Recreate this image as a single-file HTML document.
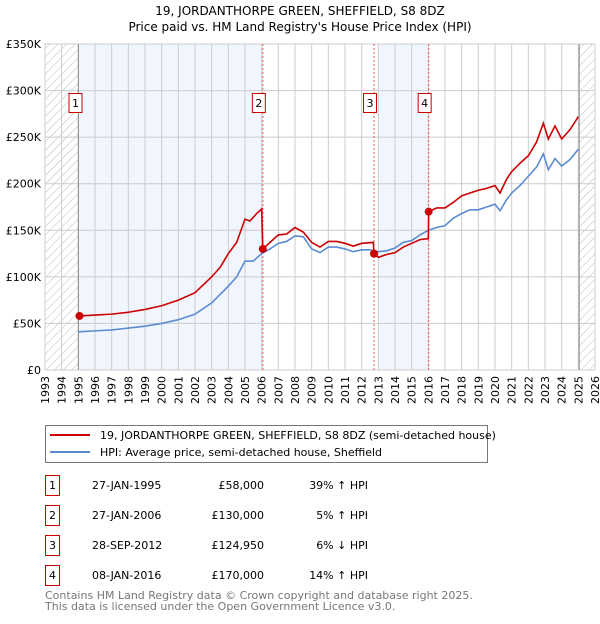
<!DOCTYPE html>
<html><head><meta charset="utf-8"><style>
body{margin:0;background:#fff;font-family:"DejaVu Sans","Liberation Sans",sans-serif;}
svg text{font-family:"DejaVu Sans","Liberation Sans",sans-serif;}
</style></head><body>
<svg id="c" width="600" height="620" viewBox="0 0 600 620" xmlns="http://www.w3.org/2000/svg">
<defs><pattern id="hatch" width="6" height="6" patternUnits="userSpaceOnUse" patternTransform="rotate(45)"><line x1="0" y1="0" x2="0" y2="6" stroke="#bbb" stroke-width="1"/></pattern></defs>
<text x="300" y="15" text-anchor="middle" font-size="12" fill="#000">19, JORDANTHORPE GREEN, SHEFFIELD, S8 8DZ</text>
<text x="300" y="31" text-anchor="middle" font-size="12" fill="#000">Price paid vs. HM Land Registry's House Price Index (HPI)</text>
<g id="plot"></g>
<g>
<rect x="45.5" y="425.5" width="442" height="37" fill="#fff" stroke="#777"/>
<line x1="50" y1="435" x2="90" y2="435" stroke="#cc0000" stroke-width="2"/>
<text x="100" y="439" font-size="11">19, JORDANTHORPE GREEN, SHEFFIELD, S8 8DZ (semi-detached house)</text>
<line x1="50" y1="452" x2="90" y2="452" stroke="#5b8bd0" stroke-width="2"/>
<text x="100" y="456" font-size="11">HPI: Average price, semi-detached house, Sheffield</text>
</g>
<g id="table" font-size="11"></g>
<text x="45" y="599" font-size="11" fill="#777">Contains HM Land Registry data © Crown copyright and database right 2025.</text>
<text x="45" y="610" font-size="11" fill="#777">This data is licensed under the Open Government Licence v3.0.</text>
</svg>
<script>
const hpiYears=[1995,1996,1997,1998,1999,2000,2001,2002,2003,2004,2004.5,2005,2005.5,2006,2006.5,2007,2007.5,2008,2008.5,2009,2009.5,2010,2010.5,2011,2011.5,2012,2012.5,2013,2013.5,2014,2014.5,2015,2015.5,2016,2016.5,2017,2017.5,2018,2018.5,2019,2019.5,2020,2020.3,2020.7,2021,2021.5,2022,2022.5,2022.9,2023.2,2023.6,2024,2024.5,2025];
const hpiValues=[41,42,43,45,47,50,54,60,72,90,100,117,117,125,130,136,138,144,143,130,126,132,132,130,127,129,129,127,128,131,137,139,145,150,153,155,163,168,172,172,175,178,171,183,190,198,208,218,232,215,227,219,226,237];
const priceYears=[1995.07,1996,1997,1998,1999,2000,2001,2002,2003,2003.5,2004,2004.5,2005,2005.3,2005.7,2006.0,2006.07,2006.5,2007,2007.5,2008,2008.5,2009,2009.5,2010,2010.5,2011,2011.5,2012,2012.7,2012.74,2013,2013.5,2014,2014.5,2015,2015.5,2016.0,2016.02,2016.5,2017,2017.5,2018,2018.5,2019,2019.5,2020,2020.3,2020.7,2021,2021.5,2022,2022.5,2022.9,2023.2,2023.6,2024,2024.5,2025];
const priceValues=[58,59,60,62,65,69,75,83,100,110,125,137,162,160,168,173,130,137,145,146,153,148,137,132,138,138,136,133,136,137,125,121,124,126,132,136,140,141,170,174,174,180,187,190,193,195,198,190,205,213,222,230,245,265,248,262,248,258,272];
const saleIds=["1","2","3","4"];
const saleDates=[1995.07,2006.07,2012.74,2016.02];
const saleValues=[58,130,124.95,170];
const saleDateLabels=["27-JAN-1995","27-JAN-2006","28-SEP-2012","08-JAN-2016"];
const salePriceLabels=["£58,000","£130,000","£124,950","£170,000"];
const saleHpiLabels=["39% ↑ HPI","5% ↑ HPI","6% ↓ HPI","14% ↑ HPI"];
const yTicks=[0,50,100,150,200,250,300,350];
const yTickLabels=["£0","£50K","£100K","£150K","£200K","£250K","£300K","£350K"];
const xStart=1993,xEnd=2026;

const L=45,R=595,T=44,B=370;
const X=v=>L+(v-xStart)/(xEnd-xStart)*(R-L);
const Y=v=>B-v/350*(B-T);
const NS="http://www.w3.org/2000/svg";
const plot=document.getElementById('plot');
function mk(tag,attrs,parent){const e=document.createElementNS(NS,tag);for(const k in attrs)e.setAttribute(k,attrs[k]);(parent||plot).appendChild(e);return e;}

let e;
e=mk('rect',{x:X(1995),y:T,width:X(2006.07)-X(1995),height:B-T,fill:'#eef3fc',opacity:0.8});


e=mk('rect',{x:X(2013),y:T,width:X(2016.02)-X(2013),height:B-T,fill:'#eef3fc',opacity:0.8});


e=mk('rect',{x:L,y:T,width:X(1995)-L,height:B-T,fill:'url(#hatch)'});


e=mk('rect',{x:X(2025.05),y:T,width:R-X(2025.05),height:B-T,fill:'url(#hatch)'});



for(let yr=xStart;yr<=xEnd;yr++){
  e=mk('line',{x1:X(yr),x2:X(yr),y1:T,y2:B,stroke:'#ccc','stroke-width':1});
  
  
  e=mk('text',{transform:`translate(${X(yr)+4},${B+6}) rotate(-90)`,'text-anchor':'end','font-size':11,fill:'#000'});
  e.textContent=String(yr);
  
  
}
yTicks.forEach((v,i)=>{
  e=mk('line',{x1:L,x2:R,y1:Y(v),y2:Y(v),stroke:'#ccc','stroke-width':1});
  
  
  e=mk('text',{x:L-4,y:Y(v)+4,'text-anchor':'end','font-size':11,fill:'#000'});
  e.textContent=yTickLabels[i];
  
  
});
e=mk('line',{x1:X(1995),x2:X(1995),y1:T,y2:B,stroke:'#888','stroke-width':1});


e=mk('line',{x1:X(2025.05),x2:X(2025.05),y1:T,y2:B,stroke:'#888','stroke-width':1});


saleDates.slice(1).forEach(d=>{
  e=mk('line',{x1:X(d),x2:X(d),y1:T,y2:B,stroke:'#e55','stroke-width':1,'stroke-dasharray':'2,2'});
  
  
});

e=mk('polyline',{points:hpiYears.map((y,i)=>X(y)+','+Y(hpiValues[i])).join(' '),fill:'none',stroke:'#5b8bd0','stroke-width':1.6});


e=mk('polyline',{points:priceYears.map((y,i)=>X(y)+','+Y(priceValues[i])).join(' '),fill:'none',stroke:'#cc0000','stroke-width':1.6});



saleDates.forEach((d,i)=>{
  e=mk('circle',{cx:X(d),cy:Y(saleValues[i]),r:4,fill:'#cc0000'});
  
  
  const g=mk('g',{});
  
  
  const bx=X(d)-10;
  mk('rect',{x:bx-0.5,y:93.5,width:13,height:19,fill:'#fff',stroke:'#cc0000','stroke-width':1},g);
  const t=mk('text',{x:bx+6,y:107,'text-anchor':'middle','font-size':11},g);
  t.textContent=saleIds[i];
});

const table=document.getElementById('table');
saleIds.forEach((id,i)=>{
  const y0=475+i*30;
  const g=mk('g',{},table);
  
  
  mk('rect',{x:45.5,y:y0+0.5,width:14,height:20,fill:'#fff',stroke:'#cc0000'},g);
  let t=mk('text',{x:52.5,y:y0+14,'text-anchor':'middle'},g);t.textContent=id;
  t=mk('text',{x:92,y:y0+14},g);t.textContent=saleDateLabels[i];
  t=mk('text',{x:264,y:y0+14,'text-anchor':'end'},g);t.textContent=salePriceLabels[i];
  t=mk('text',{x:368,y:y0+14,'text-anchor':'end'},g);t.textContent=saleHpiLabels[i];
});
</script>
</body></html>
